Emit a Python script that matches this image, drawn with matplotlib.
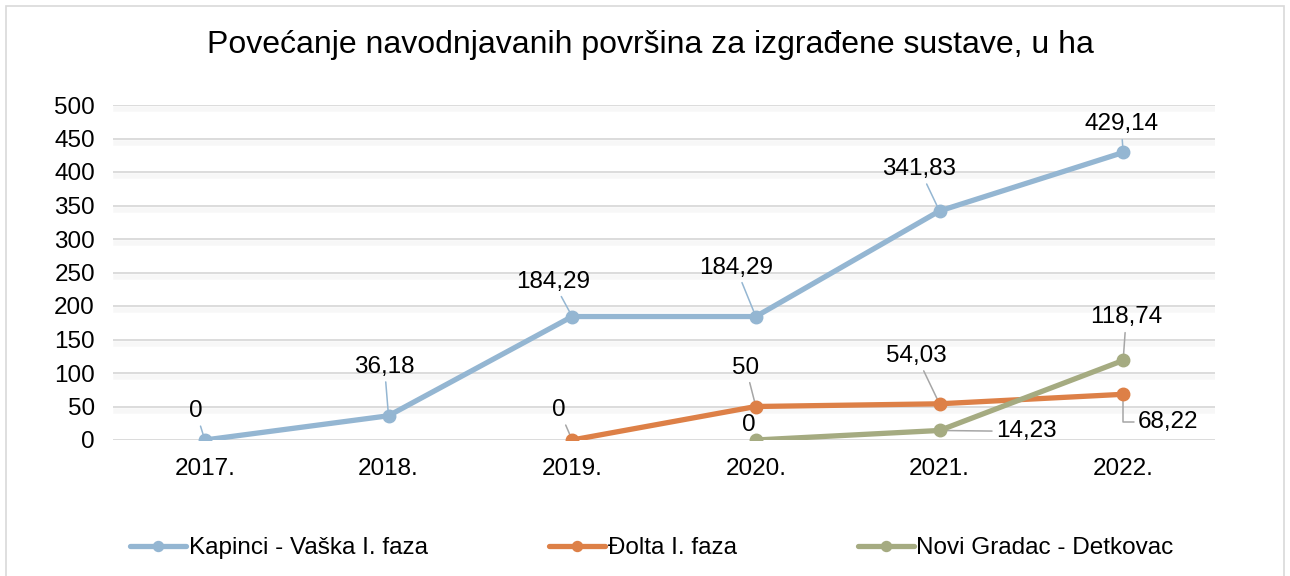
import matplotlib
matplotlib.use("Agg")
import matplotlib.pyplot as plt
import matplotlib.patheffects as pe
from matplotlib.patches import Rectangle

plt.rcParams['font.family'] = ['Liberation Sans', 'DejaVu Sans']

years = ["2017.", "2018.", "2019.", "2020.", "2021.", "2022."]
kapinci = [0, 36.18, 184.29, 184.29, 341.83, 429.14]
dolta = [None, None, 0, 50, 54.03, 68.22]
novi = [None, None, None, 0, 14.23, 118.74]
series_names = ["Kapinci - Vaška I. faza", "Đolta I. faza", "Novi Gradac - Detkovac"]
colors = ["#94B6D2", "#DD8047", "#A5AB81"]
title = "Povećanje navodnjavanih površina za izgrađene sustave, u ha"

# label offsets (pixels) from each point
label_offsets = [
    [(-9, 29), (-4, 49), (-19, 35), (-20, 49), (-20, 42), (-2, 28)],
    [None, None, (-13, 30), (-10, 39), (-23, 48), (45, -28)],
    [None, None, None, (-7, 15), (87, -1), (3, 43)],
]
leader_colors = ["#94B6D2", "#A6A6A6", "#A6A6A6"]
FS = 17.5

fig = plt.figure(figsize=(12.9, 5.76), dpi=100)
fig.patches.append(Rectangle((6/1290, -0.1), 1278/1290, 1 - 6/576 + 0.1,
                             transform=fig.transFigure, fill=False,
                             edgecolor="#D9D9D9", linewidth=1.2))
ax = fig.add_axes([113/1290, 1 - 440/576, (1215 - 113)/1290, (440 - 105)/576])

x = list(range(len(years)))
all_series = [kapinci, dolta, novi]
for vals, name, col in zip(all_series, series_names, colors):
    xs = [i for i, v in zip(x, vals) if v is not None]
    ys = [v for v in vals if v is not None]
    ax.plot(xs, ys, color=col, linewidth=3.8, marker='o', markersize=9,
            label=name, zorder=3, solid_capstyle='round')

for si, (vals, offs) in enumerate(zip(all_series, label_offsets)):
    for i, (v, off) in enumerate(zip(vals, offs)):
        if v is None or off is None:
            continue
        txt = ("%g" % v).replace('.', ',')
        if si == 1 and i == 5:
            cs = "angle,angleA=0,angleB=90,rad=0"
        else:
            cs = "arc3"
        ax.annotate(txt, xy=(i, v), xytext=off, textcoords='offset pixels',
                    ha='center', va='center', fontsize=FS, color='black',
                    zorder=2,
                    arrowprops=dict(arrowstyle='-', color=leader_colors[si],
                                    lw=1.1, shrinkA=1, shrinkB=0,
                                    connectionstyle=cs))

ax.set_xlim(-0.5, 5.5)
ax.set_ylim(0, 500)
ax.set_yticks(range(0, 501, 50))
ax.set_xticks(x)
ax.set_xticklabels(years)
ax.tick_params(axis='both', length=0, labelsize=FS, colors='black')
ax.tick_params(axis='y', pad=13)
ax.tick_params(axis='x', pad=13)
for s in ax.spines.values():
    s.set_visible(False)
ax.yaxis.grid(True, color="#D9D9D9", linewidth=1.3,
              path_effects=[pe.SimpleLineShadow(offset=(2, -3), shadow_color='black',
                                                alpha=0.03, linewidth=4),
                            pe.Normal()])
ax.set_axisbelow(True)

fig.text(650/1290, 1 - 45/576, title, ha='center', va='center', fontsize=23)

fig.legend(loc='center', bbox_to_anchor=(652/1290, 1 - 548/576), ncol=3,
           frameon=False, fontsize=FS, handlelength=2.3, handletextpad=0.1,
           columnspacing=5.0, markerscale=0.8)

fig.savefig("out.png", dpi=100)
